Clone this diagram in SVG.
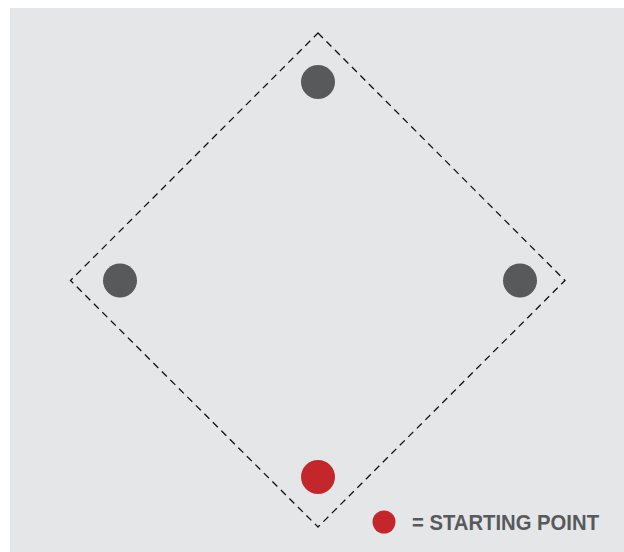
<svg xmlns="http://www.w3.org/2000/svg" width="624" height="552" viewBox="0 0 624 552">
<style>
.base{fill:#58595b}
.start{fill:#c4272b}
.lbl{font-family:"Liberation Sans",Arial,sans-serif;font-weight:bold;font-size:22.5px;fill:#58595b}
</style>
<rect x="0" y="0" width="624" height="552" fill="#ffffff"/>
<rect x="10" y="8" width="614" height="544" fill="#e5e6e8"/>
<g id="connectors">
<path d="M318,33 L565,280.5 L318,527 L70.5,280.5 Z" fill="none" stroke="#111" stroke-width="1.3" stroke-dasharray="7 5"/>
</g>
<g id="base-top"><circle class="base" cx="318" cy="82" r="17"/></g>
<g id="base-left"><circle class="base" cx="120" cy="280.5" r="17"/></g>
<g id="base-right"><circle class="base" cx="520" cy="280.5" r="17"/></g>
<g id="base-start"><circle class="start" cx="318" cy="477" r="17"/></g>
<g id="legend">
<circle class="start" cx="384" cy="522" r="11.5"/>
<text class="lbl" x="412" y="530" textLength="187" lengthAdjust="spacingAndGlyphs">= STARTING POINT</text>
</g>
</svg>
